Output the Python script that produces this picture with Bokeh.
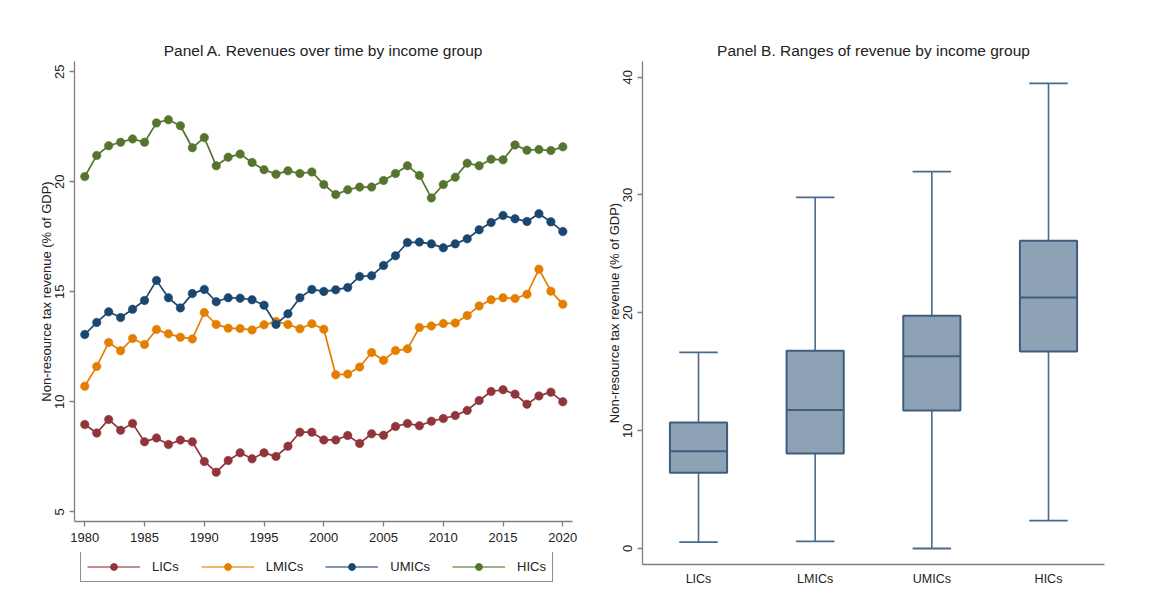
from bokeh.plotting import figure
from bokeh.models import Range1d, FixedTicker, Legend, LegendItem, ColumnDataSource
from bokeh.layouts import row, column
from bokeh.embed import file_html
from bokeh.resources import INLINE

years = list(range(1980, 2021))
lics = [8.97, 8.58, 9.20, 8.71, 9.02, 8.18, 8.36, 8.06, 8.26, 8.18, 7.29, 6.80, 7.33, 7.68, 7.41,
        7.68, 7.52, 7.98, 8.62, 8.62, 8.27, 8.27, 8.47, 8.11, 8.55, 8.48, 8.88, 9.02, 8.91, 9.12,
        9.24, 9.38, 9.61, 10.06, 10.47, 10.55, 10.35, 9.89, 10.27, 10.44, 10.00]
lmics = [10.71, 11.61, 12.70, 12.32, 12.88, 12.61, 13.29, 13.09, 12.94, 12.86, 14.06, 13.52, 13.35,
         13.33, 13.27, 13.50, 13.65, 13.52, 13.32, 13.55, 13.30, 11.23, 11.26, 11.58, 12.24, 11.89,
         12.33, 12.41, 13.38, 13.45, 13.56, 13.58, 13.92, 14.36, 14.64, 14.73, 14.70, 14.89, 16.03,
         15.03, 14.44]
umics = [13.06, 13.61, 14.09, 13.83, 14.21, 14.61, 15.52, 14.73, 14.27, 14.92, 15.11, 14.55, 14.73,
         14.71, 14.64, 14.39, 13.52, 14.00, 14.73, 15.11, 15.02, 15.09, 15.20, 15.70, 15.73, 16.20,
         16.64, 17.24, 17.26, 17.18, 17.00, 17.18, 17.41, 17.82, 18.15, 18.47, 18.32, 18.20, 18.55,
         18.18, 17.74]
hics = [20.24, 21.20, 21.64, 21.80, 21.95, 21.80, 22.68, 22.82, 22.55, 21.55, 22.01, 20.73, 21.12,
        21.26, 20.88, 20.55, 20.35, 20.50, 20.38, 20.45, 19.88, 19.42, 19.64, 19.76, 19.76, 20.06,
        20.38, 20.73, 20.29, 19.27, 19.88, 20.21, 20.85, 20.73, 21.03, 21.00, 21.68, 21.44, 21.47,
        21.42, 21.59]
series_names = ["LICs", "LMICs", "UMICs", "HICs"]
series_colors = ["#90353b", "#e37e00", "#1a476f", "#55752f"]

groups = ["LICs", "LMICs", "UMICs", "HICs"]
box_low = [0.54, 0.60, 0.00, 2.37]
box_q1 = [6.42, 8.06, 11.70, 16.71]
box_med = [8.25, 11.76, 16.31, 21.29]
box_q3 = [10.69, 16.79, 19.76, 26.12]
box_high = [16.65, 29.80, 31.98, 39.47]

x_ticks = [1980, 1985, 1990, 1995, 2000, 2005, 2010, 2015, 2020]
yA_ticks = [5, 10, 15, 20, 25]
yB_ticks = [0, 10, 20, 30, 40]

FONT = "Liberation Sans"
AX = "#7f7f7f"
TXT = "#222222"
YLAB = "Non-resource tax revenue (% of GDP)"


def style(p):
    p.outline_line_color = None
    p.xgrid.visible = False
    p.ygrid.visible = False
    p.title.text_font = FONT
    p.title.text_font_size = "15.5px"
    p.title.text_font_style = "normal"
    p.title.text_color = TXT
    p.title.align = "center"
    p.title.standoff = 6
    for ax in (p.xaxis[0], p.yaxis[0]):
        ax.axis_line_color = AX
        ax.axis_line_width = 1.3
        ax.major_tick_line_color = AX
        ax.major_tick_line_width = 1.3
        ax.major_tick_out = 5
        ax.major_tick_in = 0
        ax.minor_tick_line_color = None
        ax.major_label_text_font = FONT
        ax.major_label_text_font_size = "13px"
        ax.major_label_text_color = TXT
        ax.axis_label_text_font = FONT
        ax.axis_label_text_font_size = "13px"
        ax.axis_label_text_font_style = "normal"
        ax.axis_label_text_color = TXT
    p.yaxis[0].major_label_orientation = "vertical"
    p.yaxis[0].axis_label = YLAB
    p.yaxis[0].axis_label_standoff = -1


# Panel A
pA = figure(frame_width=498, frame_height=460, output_backend="svg", toolbar_location=None,
            x_range=Range1d(1979.14, 2020.81), y_range=Range1d(4.56, 25.47),
            title="Panel A. Revenues over time by income group",
            min_border_left=74, min_border_right=27, min_border_top=61, min_border_bottom=31)
style(pA)
pA.xaxis[0].ticker = FixedTicker(ticks=x_ticks)
pA.xaxis[0].major_label_standoff = 6
pA.yaxis[0].ticker = FixedTicker(ticks=yA_ticks)

for vals, col in zip([lics, lmics, umics, hics], series_colors):
    src = ColumnDataSource(dict(x=years, y=vals))
    pA.line("x", "y", source=src, line_color=col, line_width=1.7)
    pA.scatter("x", "y", source=src, size=8.5, fill_color=col, line_color=col, line_width=0.5)

# Legend strip under panel A (its glyphs sit outside the strip's visible range)
pL = figure(frame_width=498, frame_height=30, output_backend="svg", toolbar_location=None,
            x_range=Range1d(0, 1), y_range=Range1d(0, 1),
            x_axis_location=None, y_axis_location=None,
            min_border_left=74, min_border_right=27, min_border_top=0, min_border_bottom=0)
pL.outline_line_color = None
pL.xgrid.visible = False
pL.ygrid.visible = False
items = []
for name, col in zip(series_names, series_colors):
    esrc = ColumnDataSource(dict(x=[5, 6], y=[5, 6]))
    r1 = pL.line("x", "y", source=esrc, line_color=col, line_width=1.7, line_alpha=0.75)
    r2 = pL.scatter("x", "y", source=esrc, size=7, fill_color=col, line_color=col)
    items.append(LegendItem(label=name, renderers=[r1, r2]))
legend = Legend(items=items, orientation="horizontal", location=(6, 0),
                border_line_color="#222222", border_line_width=1.2,
                label_text_font=FONT, label_text_font_size="13px", label_text_color=TXT,
                glyph_width=53, glyph_height=17, label_height=17, label_standoff=12,
                spacing=22, padding=6, margin=0)
pL.add_layout(legend, "center")

# Panel B
pB = figure(frame_width=462, frame_height=503, output_backend="svg", toolbar_location=None,
            x_range=Range1d(-0.48, 3.48), y_range=Range1d(-1.36, 41.33),
            title="Panel B. Ranges of revenue by income group",
            min_border_left=43, min_border_right=52, min_border_top=61, min_border_bottom=38)
style(pB)
pB.yaxis[0].ticker = FixedTicker(ticks=yB_ticks)
xs = list(range(len(groups)))
pB.xaxis[0].ticker = FixedTicker(ticks=xs)
pB.xaxis[0].major_label_overrides = {i: g for i, g in enumerate(groups)}
pB.xaxis[0].major_tick_line_color = None
pB.xaxis[0].major_tick_out = 0
pB.xaxis[0].major_label_standoff = 7
pB.xaxis[0].major_label_text_font_size = "12.5px"

WC = "#4a6a8c"
BC = "#3e5e80"
bsrc = ColumnDataSource(dict(x=xs, low=box_low, q1=box_q1, med=box_med, q3=box_q3, high=box_high,
                             xl=[x - 0.245 for x in xs], xr=[x + 0.245 for x in xs],
                             cl=[x - 0.165 for x in xs], cr=[x + 0.165 for x in xs]))
pB.segment(x0="x", y0="q3", x1="x", y1="high", source=bsrc, line_color=WC, line_width=1.6)
pB.segment(x0="x", y0="low", x1="x", y1="q1", source=bsrc, line_color=WC, line_width=1.6)
pB.segment(x0="cl", y0="high", x1="cr", y1="high", source=bsrc, line_color=WC, line_width=1.8)
pB.segment(x0="cl", y0="low", x1="cr", y1="low", source=bsrc, line_color=WC, line_width=1.8)
pB.quad(left="xl", right="xr", bottom="q1", top="q3", source=bsrc,
        fill_color="#8ea2b6", line_color=BC, line_width=2)
pB.segment(x0="xl", y0="med", x1="xr", y1="med", source=bsrc, line_color=BC, line_width=2)

layout = row(column(pA, pL), pB)
open("out.html", "w").write(file_html(layout, INLINE))
